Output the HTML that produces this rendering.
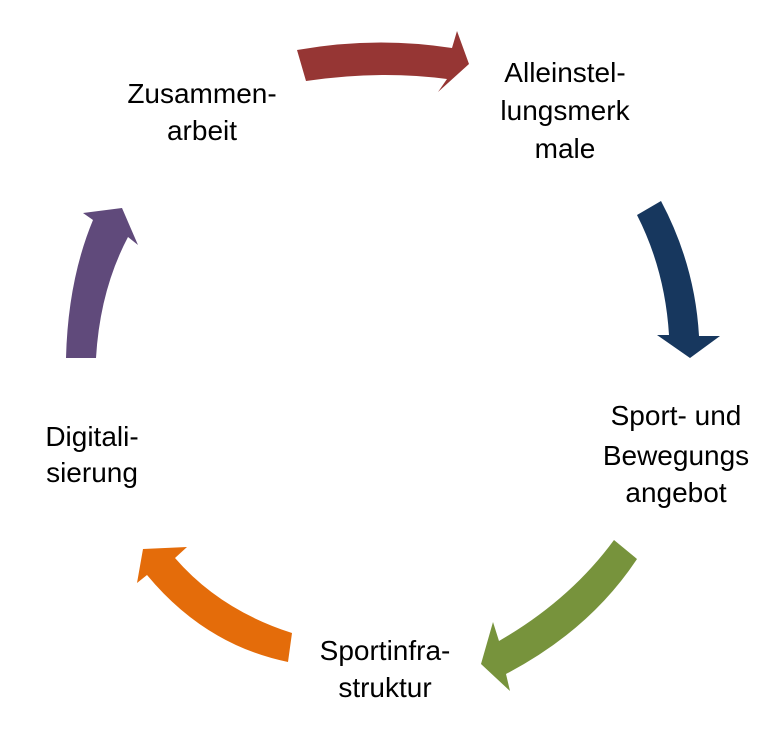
<!DOCTYPE html>
<html><head><meta charset="utf-8"><style>
html,body{margin:0;padding:0;background:#fff;}
svg{display:block;}
text{font-family:"Liberation Sans",sans-serif;font-size:28px;fill:#000;text-anchor:middle;}
</style></head><body>
<svg width="779" height="730" viewBox="0 0 779 730" xmlns="http://www.w3.org/2000/svg">
<path fill="#963634" d="M297,50 Q375,36 452,48 L457,31 L469,64 L438,92 L447,79 Q380,70 306,81 Z"/>
<path fill="#17375e" d="M637,215 Q665,270 669,335 L657,335 L690,358 L720,336 L699,336 Q695,265 661,201 Z"/>
<path fill="#77933c" d="M614,540 Q570,600 499,641 L493,622 L481,664 L510,691 L506,674 Q590,630 637,559 Z"/>
<path fill="#e46c0a" d="M292,633 Q220,610 175,558 L187,547 L143,549 L137,583 L147,575 Q205,645 288,662 Z"/>
<path fill="#604a7b" d="M66,358 Q68,280 93,220 L83,213 L122,208 L138,245 L128,237 Q100,290 96,358 Z"/>
<text x="202" y="103">Zusammen-</text>
<text x="202" y="140">arbeit</text>
<text x="565" y="82">Alleinstel-</text>
<text x="565" y="120">lungsmerk</text>
<text x="565" y="158">male</text>
<text x="676" y="425">Sport- und</text>
<text x="676" y="465">Bewegungs</text>
<text x="676" y="502">angebot</text>
<text x="385" y="660">Sportinfra-</text>
<text x="385" y="697">struktur</text>
<text x="92" y="446">Digitali-</text>
<text x="92" y="482">sierung</text>
</svg>
</body></html>
